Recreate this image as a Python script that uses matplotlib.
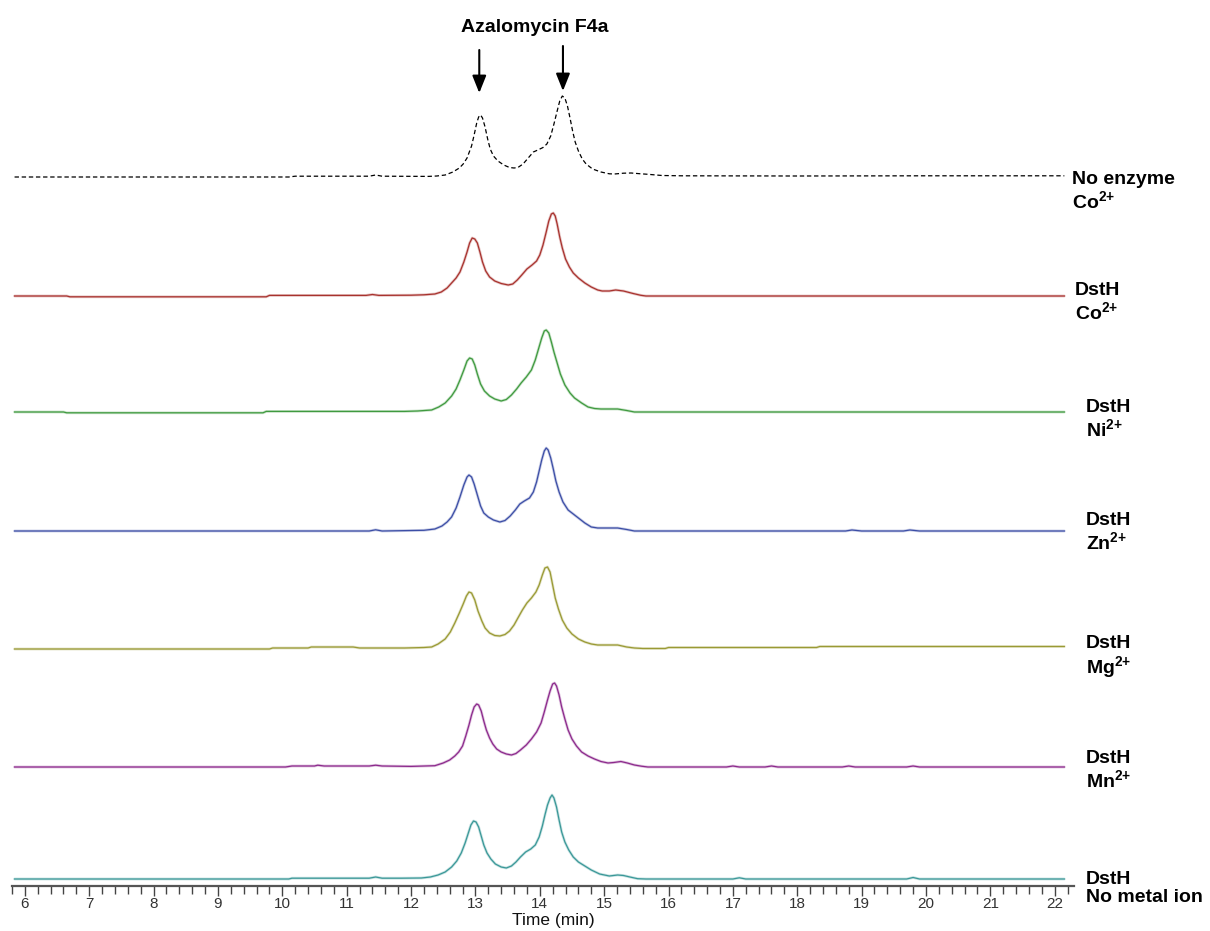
import matplotlib
matplotlib.use("Agg")
import matplotlib.pyplot as plt
import numpy as np

# ---------------- data ----------------
t_no_enzyme = [5.84, 10.1, 10.2, 11.35, 11.45, 11.55, 12.27, 12.40, 12.53, 12.65, 12.75, 12.81, 12.87,
               12.94, 12.98, 13.02, 13.05, 13.08, 13.11, 13.15, 13.19, 13.23, 13.28, 13.35, 13.44,
               13.53, 13.60, 13.66, 13.74, 13.82, 13.90, 13.97, 14.05, 14.11, 14.17, 14.22, 14.27,
               14.31, 14.35, 14.39, 14.43, 14.47, 14.51, 14.55, 14.60, 14.66, 14.72, 14.82, 14.95,
               15.08, 15.16, 15.30, 15.42, 15.55, 15.68, 15.9, 16.2, 18.0, 20.0, 22.15]
h_no_enzyme = [0, 0, 0.8, 0.8, 2.0, 0.8, 0.6, 1, 2, 5, 9, 13, 19,
               31, 42, 54, 60, 62, 59, 50, 38, 28, 21, 16, 12,
               9.5, 9, 9.5, 13, 19, 25, 27, 29.5, 33, 41, 53, 66,
               76, 81, 79, 71, 59, 46, 35, 26, 18, 13, 8, 5,
               3.2, 3, 3.8, 4, 3.3, 2.7, 1.5, 1.2, 1.0, 1.2, 1.2]

t_co = [5.84, 6.65, 6.7, 9.75, 9.8, 11.3, 11.4, 11.5, 12.0, 12.20, 12.37, 12.47, 12.56, 12.63, 12.70,
        12.76, 12.82, 12.87, 12.91, 12.95, 12.99, 13.03, 13.07, 13.11, 13.16, 13.22, 13.30, 13.40,
        13.51, 13.58, 13.65, 13.72, 13.80, 13.88, 13.95, 14.00, 14.05, 14.10, 14.14, 14.18, 14.21,
        14.24, 14.27, 14.31, 14.35, 14.40, 14.46, 14.52, 14.60, 14.70, 14.80, 14.90, 14.97, 15.08,
        15.18, 15.30, 15.45, 15.57, 15.65, 22.15]
h_co = [0, 0, -0.8, -0.8, 0.6, 0.6, 1.5, 0.6, 0.8, 1.2, 2, 4, 8, 13, 18,
        24, 34, 44, 53, 58, 57, 53, 44, 34, 25, 19, 15, 12.5,
        11, 12, 16, 21, 27, 31, 35, 41, 51, 64, 75, 82, 83,
        80, 72, 59, 48, 37, 29, 23, 18, 13, 9, 6, 5, 5,
        6, 5, 2.5, 0.7, 0, 0]

t_ni = [5.84, 6.6, 6.65, 9.7, 9.75, 11.9, 12.1, 12.32, 12.43, 12.53, 12.63, 12.70, 12.76, 12.82, 12.87,
        12.91, 12.95, 12.99, 13.03, 13.08, 13.14, 13.22, 13.30, 13.40, 13.48, 13.56, 13.64, 13.71,
        13.79, 13.87, 13.93, 13.98, 14.03, 14.07, 14.10, 14.14, 14.18, 14.22, 14.27, 14.32, 14.39,
        14.47, 14.54, 14.65, 14.75, 14.85, 14.95, 15.21, 15.35, 15.47, 15.6, 22.15]
h_ni = [0, 0, -0.8, -0.8, 0.6, 0.6, 1, 2, 5, 9, 16, 23, 32, 42, 51,
        54, 53, 47, 38, 28, 21, 16, 13, 11, 12.5, 17, 23, 29,
        35, 42, 52, 63, 74, 81, 82, 79, 70, 60, 49, 38, 27,
        19, 14, 9, 5, 3.5, 3, 3, 1.5, 0, 0, 0]

t_zn = [5.84, 11.35, 11.45, 11.55, 12.2, 12.37, 12.48, 12.56, 12.63, 12.70, 12.76, 12.82, 12.87, 12.90,
        12.94, 12.98, 13.03, 13.08, 13.13, 13.20, 13.28, 13.38, 13.46, 13.54, 13.62, 13.69, 13.76,
        13.84, 13.90, 13.95, 13.99, 14.03, 14.07, 14.10, 14.13, 14.17, 14.21, 14.25, 14.30, 14.36,
        14.44, 14.52, 14.60, 14.70, 14.80, 14.90, 15.21, 15.35, 15.47,
        18.75, 18.85, 19.0, 19.65, 19.75, 19.9, 22.15]
h_zn = [0, 0, 1.2, 0, 0.7, 2, 5, 9, 14, 23, 34, 46, 54, 56,
        54, 47, 36, 25, 18, 14, 11, 9, 10.5, 15, 21, 27, 30,
        33, 39, 49, 60, 71, 80, 83, 81, 73, 62, 50, 39, 29,
        21, 17, 13, 8, 4, 3, 3, 1.5, 0,
        0, 1.0, 0, 0, 1.0, 0, 0]

t_mg = [5.84, 9.8, 9.85, 10.4, 10.45, 11.1, 11.2, 11.9, 12.20, 12.32, 12.42, 12.53, 12.61, 12.68, 12.75,
        12.81, 12.86, 12.90, 12.94, 12.99, 13.04, 13.10, 13.15, 13.22, 13.30, 13.38, 13.46, 13.53,
        13.60, 13.66, 13.73, 13.80, 13.87, 13.94, 13.99, 14.04, 14.08, 14.12, 14.16, 14.20, 14.24,
        14.29, 14.35, 14.42, 14.50, 14.60, 14.70, 14.80, 14.90, 15.21, 15.35, 15.47, 15.6,
        15.95, 16.0, 18.3, 18.35, 22.15]
h_mg = [0, 0, 1.0, 1.0, 2.0, 2.0, 1.0, 1.0, 1.5, 2, 5, 10, 17, 26, 36,
        45, 53, 57, 56, 49, 38, 28, 21, 16, 13.5, 13, 14.5, 18,
        24, 31, 39, 46, 51, 57, 64, 74, 81, 82, 77, 64, 51,
        40, 29, 21, 15, 10, 7, 5, 4, 4, 2, 1, 0.5,
        0.5, 1.5, 1.5, 2.5, 2.5]

t_mn = [5.84, 10.05, 10.15, 10.5, 10.55, 10.65, 11.35, 11.45, 11.55, 12.0, 12.37, 12.50, 12.60, 12.68,
        12.74, 12.80, 12.85, 12.90, 12.94, 12.98, 13.02, 13.05, 13.09, 13.13, 13.17, 13.22, 13.27,
        13.33, 13.40, 13.48, 13.56, 13.63, 13.70, 13.79, 13.87, 13.95, 14.02, 14.07, 14.12, 14.16,
        14.20, 14.23, 14.26, 14.30, 14.34, 14.39, 14.44, 14.50, 14.57, 14.65, 14.75, 14.85, 14.95,
        15.06, 15.15, 15.26, 15.36, 15.47, 15.58, 15.68,
        16.9, 17.0, 17.1, 17.5, 17.6, 17.7, 18.7, 18.8, 18.9, 19.7, 19.8, 19.9, 22.15]
h_mn = [0, 0, 1.0, 1.0, 1.8, 1.0, 1.0, 1.8, 1.0, 0.6, 1.3, 4, 7, 11,
        15, 21, 31, 42, 52, 60, 63, 62, 56, 46, 37, 29, 23,
        18, 15, 13, 12, 13.5, 17, 22, 28, 35, 44, 55, 67, 76,
        83, 84, 81, 72, 60, 48, 37, 28, 21, 15, 11, 8, 5.5,
        4, 4.5, 5.5, 4, 2, 0.8, 0,
        0, 1.0, 0, 0, 1.0, 0, 0, 1.0, 0, 0, 1.0, 0, 0]

t_none = [5.84, 10.1, 10.15, 11.35, 11.45, 11.55, 11.85, 12.16, 12.30, 12.42, 12.53, 12.63, 12.71,
          12.78, 12.84, 12.89, 12.93, 12.97, 13.01, 13.05, 13.09, 13.13, 13.18, 13.24, 13.31, 13.40,
          13.48, 13.56, 13.63, 13.70, 13.78, 13.86, 13.93, 13.99, 14.04, 14.08, 14.12, 14.16, 14.19,
          14.22, 14.26, 14.30, 14.34, 14.39, 14.45, 14.52, 14.60, 14.70, 14.80, 14.93, 15.08, 15.21,
          15.30, 15.40, 15.52, 15.65, 17.0, 17.1, 17.2, 19.7, 19.8, 19.9, 22.15]
h_none = [0, 0, 0.8, 0.8, 2.0, 0.8, 0.8, 1, 2, 4, 7, 12, 18,
          26, 36, 46, 54, 58, 57, 52, 43, 34, 26, 20, 15, 12,
          11, 13, 17, 22, 27, 30, 34, 42, 53, 64, 74, 81, 84,
          81, 72, 59, 47, 37, 29, 22, 17, 13, 9, 5, 3, 4,
          3.5, 2, 0.3, 0, 0, 1.2, 0, 0, 1.5, 0, 0]

trace_times = [t_no_enzyme, t_co, t_ni, t_zn, t_mg, t_mn, t_none]
trace_values = [h_no_enzyme, h_co, h_ni, h_zn, h_mg, h_mn, h_none]
trace_labels = ["No enzyme\nCo$^{2{+}}$", "DstH\nCo$^{2{+}}$", "DstH\nNi$^{2{+}}$",
                "DstH\nZn$^{2{+}}$", "DstH\nMg$^{2{+}}$", "DstH\nMn$^{2{+}}$",
                "DstH\nNo metal ion"]
arrow_times = [13.06, 14.36]
compound_name = "Azalomycin F4a"
x_ticks = list(range(6, 23))

# ---------------- layout / style ----------------
trace_offsets = [709, 590, 474, 355, 237, 119, 7]
trace_colors = ["black", "#a8322e", "#3f9a3f", "#3c4ea6", "#9a9a34", "#8c2a8c", "#3a9898"]
label_x = [22.27, 22.31, 22.48, 22.48, 22.48, 22.48, 22.48]
label_top = [715, 604, 487, 374, 251, 136, 15]

plt.rcParams['font.family'] = ['Liberation Sans', 'DejaVu Sans']
plt.rcParams['mathtext.fontset'] = 'custom'
plt.rcParams['mathtext.rm'] = 'Liberation Sans:bold'
plt.rcParams['mathtext.bf'] = 'Liberation Sans:bold'
plt.rcParams['mathtext.default'] = 'regular'

W, H = 1210, 931
fig = plt.figure(figsize=(W / 100, H / 100), dpi=100)
ax_left, ax_right, ax_bottom = 12, 1074, 886
ax = fig.add_axes([ax_left / W, (H - ax_bottom) / H, (ax_right - ax_left) / W, ax_bottom / H])
ax.set_xlim(5.84, 22.3)
ax.set_ylim(0, ax_bottom)

for i, (tt, hh) in enumerate(zip(trace_times, trace_values)):
    y = np.array(hh, dtype=float) + trace_offsets[i]
    if i == 0:
        ax.plot(tt, y, color=trace_colors[i], lw=0.9, ls=(0, (3.5, 2.2)))
    else:
        ax.plot(tt, y, color=trace_colors[i], lw=2.0, alpha=0.28, solid_joinstyle='round',
                solid_capstyle='round')
        ax.plot(tt, y, color=trace_colors[i], lw=0.9, solid_joinstyle='round')
    ax.text(label_x[i], label_top[i], trace_labels[i], ha='left', va='top', fontsize=14,
            fontweight='bold', linespacing=1.1, clip_on=False)

# arrows and compound name
arrow_tops = [836, 840]
arrow_tips = [793, 795]
for xa, y0, y1 in zip(arrow_times, arrow_tops, arrow_tips):
    ax.annotate("", xy=(xa, y1), xytext=(xa, y0),
                arrowprops=dict(arrowstyle="-|>,head_width=0.42,head_length=1.05", color="black",
                                lw=1.5, shrinkA=0, shrinkB=0), annotation_clip=False)
ax.text(13.92, 859, compound_name, ha='center', va='center', fontsize=14, fontweight='bold')

# axis styling
for s in ['left', 'right', 'top']:
    ax.spines[s].set_visible(False)
ax.spines['bottom'].set_color('#555555')
ax.spines['bottom'].set_linewidth(1.6)
ax.set_yticks([])
ax.set_xticks(x_ticks)
ax.set_xticklabels([str(v) for v in x_ticks], fontsize=11, color='#333333')
ax.set_xticks(np.arange(5.8, 22.31, 0.2), minor=True)
ax.tick_params(axis='x', which='major', direction='out', length=7, width=1, color='#444444', pad=1)
ax.tick_params(axis='x', which='minor', direction='out', length=5.5, width=1, color='#444444')
ax.set_xlabel("Time (min)", fontsize=12.5, color='#111111')
ax.xaxis.set_label_coords((553 - ax_left) / (ax_right - ax_left), -0.031)

fig.savefig("out.png", dpi=100)
